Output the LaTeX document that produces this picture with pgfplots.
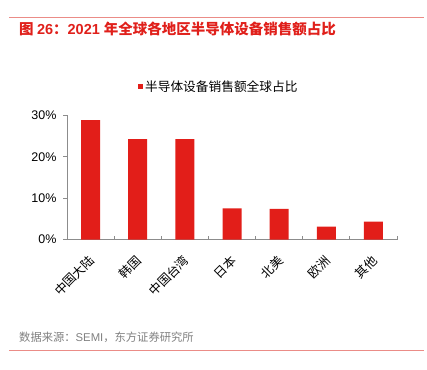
\documentclass[border=0pt]{standalone}
\usepackage{fontspec}
\setmainfont{Liberation Sans}
\newfontfamily\cjk{Noto Sans CJK SC}
\usepackage{pgfplots}
\pgfplotsset{compat=1.18}
\definecolor{barred}{RGB}{226,30,25}
\definecolor{linered}{RGB}{235,140,135}
\definecolor{titlered}{RGB}{224,32,27}
\definecolor{srcgray}{RGB}{128,128,128}
\definecolor{axgray}{RGB}{140,140,140}
\begin{document}
\begin{tikzpicture}[x=1pt,y=1pt]
\path (0,0) rectangle (427,369);
\draw[linered, line width=1pt] (9,351.7) -- (424,351.7);
\draw[linered, line width=1pt] (9,18.3) -- (424,18.3);
\node[anchor=west, text=titlered, font=\bfseries\fontsize{14.5}{16}\selectfont, inner sep=0] at (19,340) {{\cjk\bfseries 图 }26{\cjk\bfseries ：}2021 {\cjk\bfseries 年全球各地区半导体设备销售额占比}};
\node[anchor=west, text=srcgray, font=\fontsize{11.3}{13}\selectfont, inner sep=0] at (19,31.3) {{\cjk 数据来源：}SEMI{\cjk ，东方证券研究所}};
\begin{axis}[
  at={(67pt,129.5pt)}, anchor=south west,
  scale only axis, width=330pt, height=124pt,
  ymin=0, ymax=30, xmin=-0.5, xmax=6.5,
  axis lines=left, axis line style={-, draw=axgray, line width=0.8pt},
  ytick={0,10,20,30},
  yticklabel={\pgfmathprintnumber{\tick}\%},
  /pgf/number format/assume math mode=true,
  yticklabel style={font=\fontsize{12.5}{14}\selectfont, text=black, xshift=-3pt},
  ytick style={draw=axgray, line width=0.8pt},
  major tick length=4pt,
  tick align=outside,
  xtick={0,...,6},
  xticklabels={中国大陆,韩国,中国台湾,日本,北美,欧洲,其他},
  major x tick style={draw=none},
  minor xtick={-0.5,0.5,...,6.5},
  minor tick length=4pt,
  minor x tick style={draw=axgray, line width=0.8pt, yshift=4pt},
  xticklabel style={font=\cjk\fontsize{12.5}{14}\selectfont, xshift=4pt, yshift=-12pt, rotate=45, anchor=east, text=black},
  legend style={at={(0.46,1.23)}, anchor=center, draw=none, fill=none, font=\cjk\fontsize{12.7}{14}\selectfont},
  legend image code/.code={\fill[barred] (0pt,-2.5pt) rectangle (5pt,2.5pt);},
]
\addplot[ybar, bar width=19pt, fill=barred, draw=none] coordinates {(0,28.9) (1,24.3) (2,24.3) (3,7.5) (4,7.4) (5,3.1) (6,4.3)};
\legend{半导体设备销售额全球占比}
\end{axis}
\end{tikzpicture}
\end{document}
